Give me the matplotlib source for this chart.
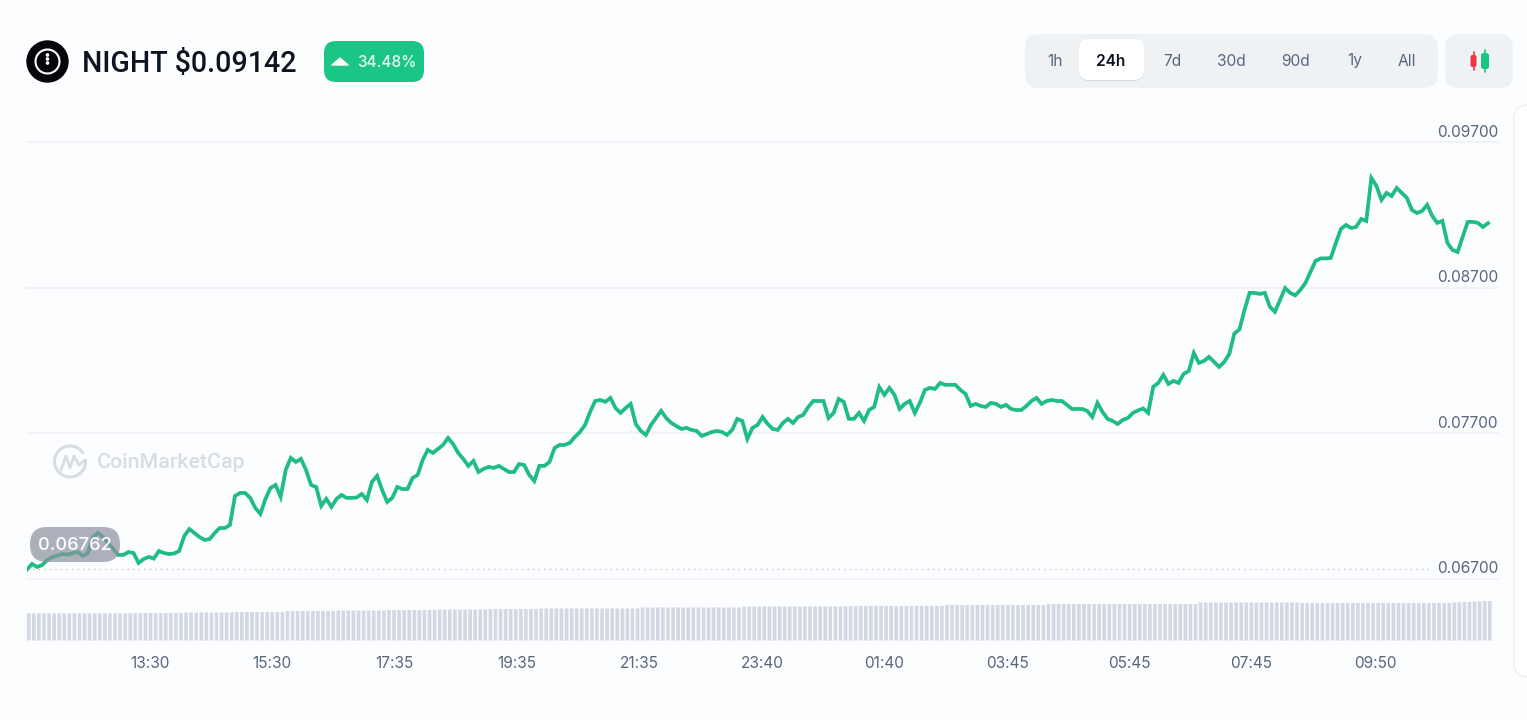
import numpy as np
import matplotlib
matplotlib.use('Agg')
import matplotlib.pyplot as plt
from matplotlib.patches import FancyBboxPatch, Circle, Arc, Polygon
from matplotlib.transforms import ScaledTranslation

# 5 minute closes, in dollars
prices = np.array([
    6762, 6800, 6779, 6793, 6827, 6848, 6858, 6868, 6865, 6875, 6882, 6855, 6875, 6985, 7013, 6985, 6944, 6903, 6862, 6862,
    6882, 6875, 6807, 6834, 6848, 6837, 6889, 6875, 6868, 6872, 6889, 6992, 7040, 7013, 6985, 6965, 6971, 7013, 7047, 7047,
    7068, 7267, 7288, 7288, 7254, 7185, 7144, 7247, 7322, 7343, 7261, 7446, 7529, 7501, 7522, 7446, 7343, 7329, 7199, 7247,
    7192, 7247, 7274, 7254, 7254, 7257, 7281, 7240, 7364, 7405, 7309, 7226, 7254, 7329, 7315, 7315, 7391, 7411, 7515, 7584,
    7563, 7590, 7618, 7666, 7624, 7563, 7522, 7474, 7508, 7432, 7453, 7467, 7460, 7474, 7453, 7432, 7432, 7487, 7480, 7412,
    7370, 7474, 7474, 7501, 7597, 7618, 7618, 7632, 7673, 7707, 7755, 7845, 7920, 7927, 7914, 7941, 7872, 7838, 7872, 7900,
    7762, 7714, 7687, 7755, 7803, 7852, 7803, 7769, 7748, 7728, 7735, 7721, 7714, 7680, 7693, 7707, 7714, 7707, 7687, 7721,
    7797, 7783, 7659, 7735, 7755, 7810, 7762, 7728, 7721, 7769, 7797, 7769, 7810, 7824, 7879, 7920, 7920, 7920, 7803, 7838,
    7934, 7914, 7797, 7797, 7838, 7783, 7858, 7879, 8016, 7962, 8010, 7962, 7865, 7900, 7920, 7838, 7907, 7996, 8010, 8003,
    8044, 8031, 8031, 8031, 7996, 7969, 7886, 7900, 7886, 7879, 7907, 7900, 7879, 7893, 7865, 7858, 7858, 7886, 7920, 7941,
    7900, 7920, 7927, 7920, 7920, 7893, 7865, 7865, 7865, 7852, 7810, 7907, 7845, 7797, 7783, 7762, 7790, 7803, 7838, 7855,
    7869, 7838, 8017, 8044, 8099, 8037, 8058, 8044, 8106, 8126, 8250, 8182, 8195, 8223, 8188, 8154, 8188, 8243, 8384, 8412,
    8546, 8663, 8663, 8656, 8663, 8567, 8533, 8614, 8696, 8663, 8646, 8683, 8731, 8807, 8883, 8900, 8900, 8903, 9006, 9102,
    9130, 9109, 9116, 9171, 9157, 9453, 9398, 9302, 9350, 9329, 9384, 9350, 9316, 9233, 9212, 9226, 9268, 9192, 9144, 9158,
    9006, 8958, 8944, 9048, 9151, 9151, 9144, 9116, 9142,
]) / 100000

volumes = np.array(
    [27.2] * 21 + [27.5] * 10 + [28.0] * 10 + [28.5] * 10 + [29.5] * 10 + [30.0] * 10 + [30.5] * 10 + [31.0] * 10
    + [31.5] * 10 + [32.0] * 20 + [33.0] * 20 + [34.0] * 20 + [34.5] * 20 + [35.5] * 20 + [36.5] * 30 + [38.0] * 20
    + [37.5] * 30 + [38.0, 38.0, 38.5, 38.5, 39.0, 39.0, 39.5, 39.5]
)

open_price = 0.06762
last_price = '$0.09142'
change_pct = '34.48%'
price_ticks = [0.067, 0.077, 0.087, 0.097]
time_ticks = [24.2, 48.3, 72.4, 96.6, 120.7, 144.9, 169.0, 193.2, 217.4, 241.4, 265.7]
time_labels = ['13:30', '15:30', '17:35', '19:35', '21:35', '23:40', '01:40', '03:45', '05:45', '07:45', '09:50']
ranges = ['1h', '24h', '7d', '30d', '90d', '1y', 'All']
range_x = [1055, 1111, 1172, 1231, 1296, 1355, 1407]

W, H = 1527, 720
BG = '#fcfdfe'
GREEN = '#1fbc83'
GREY_TEXT = '#58667e'
PANEL = '#eff2f5'
SANS = ['Inter', 'DejaVu Sans']

plt.rcParams['font.family'] = SANS


def px_axes(fig, x0, y0, x1, y1):
    # axes from pixel box, y counted from the top
    return fig.add_axes([x0 / W, 1 - y1 / H, (x1 - x0) / W, (y1 - y0) / H])


def round_box(ax, x0, y0, x1, y1, r, **kw):
    ax.add_patch(FancyBboxPatch((x0 + r, y0 + r), x1 - x0 - 2 * r, y1 - y0 - 2 * r,
                                boxstyle='round,pad=%g,rounding_size=%g' % (r, r), **kw))


fig = plt.figure(figsize=(W / 100, H / 100), dpi=100, facecolor=BG)

# price line
PITCH = 5.073
xlim = (0, (1498 - 27) / PITCH)
ax = px_axes(fig, 27, 142, 1498, 578.5)
ax.patch.set_alpha(0)
idx = np.arange(len(prices))
ax.plot(idx, prices, color=GREEN, lw=2.7, solid_joinstyle='miter', zorder=3)
ax.plot([0, 1404 / PITCH], [open_price, open_price], color='#bfc4cd', lw=1, ls=(0, (1, 3)), zorder=2)
ax.set_xlim(xlim)
ax.set_ylim(0.067, 0.097)
ax.set_yticks(price_ticks)
ax.set_yticklabels(['%.5f' % t for t in price_ticks])
ax.yaxis.tick_right()
ax.tick_params(axis='y', length=0, pad=0, labelsize=11.1, labelcolor=GREY_TEXT)
for lab in ax.get_yticklabels():
    lab.set_ha('right')
    lab.set_va('bottom')
    lab.set_transform(lab.get_transform() + ScaledTranslation(0, 1.5 / 72, fig.dpi_scale_trans))
ax.set_xticks([])
ax.grid(axis='y', color='#eff2f5', lw=1.2, clip_on=False)
for s in ax.spines.values():
    s.set_visible(False)

# volume strip
vol = px_axes(fig, 27, 578.5, 1498, 640.5)
vol.patch.set_alpha(0)
vol.bar(idx + 0.35, volumes, width=0.72, color='#d2d9e4', snap=False)
vol.axhline(0, color='#eff2f5', lw=1)
vol.set_xlim(xlim)
vol.set_ylim(0, 62)
vol.set_yticks([])
vol.set_xticks(time_ticks)
vol.set_xticklabels(time_labels)
vol.tick_params(axis='x', length=0, pad=11, labelsize=11.1, labelcolor=GREY_TEXT)
for s in vol.spines.values():
    s.set_visible(False)

# header, buttons and watermark in pixel coordinates
ui = fig.add_axes([0, 0, 1, 1], zorder=5)
ui.set_xlim(0, W)
ui.set_ylim(H, 0)
ui.axis('off')

ui.add_patch(Circle((47.5, 61.5), 20.5, color='#05060a'))
ui.add_patch(Circle((47.5, 61.5), 12, fill=False, ec='white', lw=1.5))
for dy in (-6.5, -2.5, 1.5):
    ui.add_patch(Circle((47.5, 61.5 + dy), 1.1, color='white'))
ui.text(82, 64, 'NIGHT ' + last_price, fontsize=20.6, color='#0d1421', va='center', fontweight='medium',
        family=['Roboto', 'DejaVu Sans'])

round_box(ui, 324, 41, 424, 82, 12, fc='#1ac586', ec='none')
ui.add_patch(Polygon([[332, 65], [340, 58], [348, 65]], closed=True, fc='white', ec='white', lw=1, joinstyle='round'))
ui.text(386.5, 62.5, change_pct, fontsize=11, color='#e8fbf3', ha='center', va='center', fontweight='medium')

round_box(ui, 1025, 34, 1438, 88, 14, fc=PANEL, ec='none')
round_box(ui, 1079, 40.5, 1144, 81, 10, fc='#d5dae2', ec='none')
round_box(ui, 1079, 39, 1144, 80, 10, fc='white', ec='none')
for name, x in zip(ranges, range_x):
    sel = name == '24h'
    ui.text(x, 61, name, fontsize=11.2, ha='center', va='center', color='#0d1421' if sel else GREY_TEXT,
            fontweight='semibold' if sel else 'normal')

round_box(ui, 1445, 34, 1513, 88, 14, fc=PANEL, ec='none')
ui.plot([1473.5, 1473.5], [52, 70], color='#ea3943', lw=1.2, solid_capstyle='round')
round_box(ui, 1470.5, 55, 1476.5, 67, 2, fc='#ea3943', ec='none')
ui.plot([1485, 1485], [50, 72], color='#16c784', lw=1.2, solid_capstyle='round')
round_box(ui, 1481, 53, 1489, 69, 2.5, fc='#16c784', ec='none')

# side panel peeking in on the right
round_box(ui, 1514, 105, 1570, 677, 14, fc='white', ec='#f0f2f5', lw=1.2, clip_on=True)

# watermark
mark = '#d8dce3'
ui.add_patch(Arc((70, 461.5), 31, 31, angle=0, theta1=-10, theta2=330, color=mark, lw=2.2))
ui.plot([61, 66, 70, 74, 79, 84], [470, 456, 468, 456, 465, 461], color=mark, lw=2)
ui.text(96.5, 463, 'CoinMarketCap', fontsize=15.4, color=mark, va='center', fontweight='medium',
        family=['Roboto', 'DejaVu Sans'])

# opening price pill sits over the line
round_box(ui, 30, 527, 120, 562, 17, fc='#8b909e', ec='none', alpha=0.7)
ui.text(75, 545, '%.5f' % open_price, fontsize=13.2, color='white', ha='center', va='center', fontweight='medium')

fig.savefig('out.png', dpi=100, facecolor=BG)
